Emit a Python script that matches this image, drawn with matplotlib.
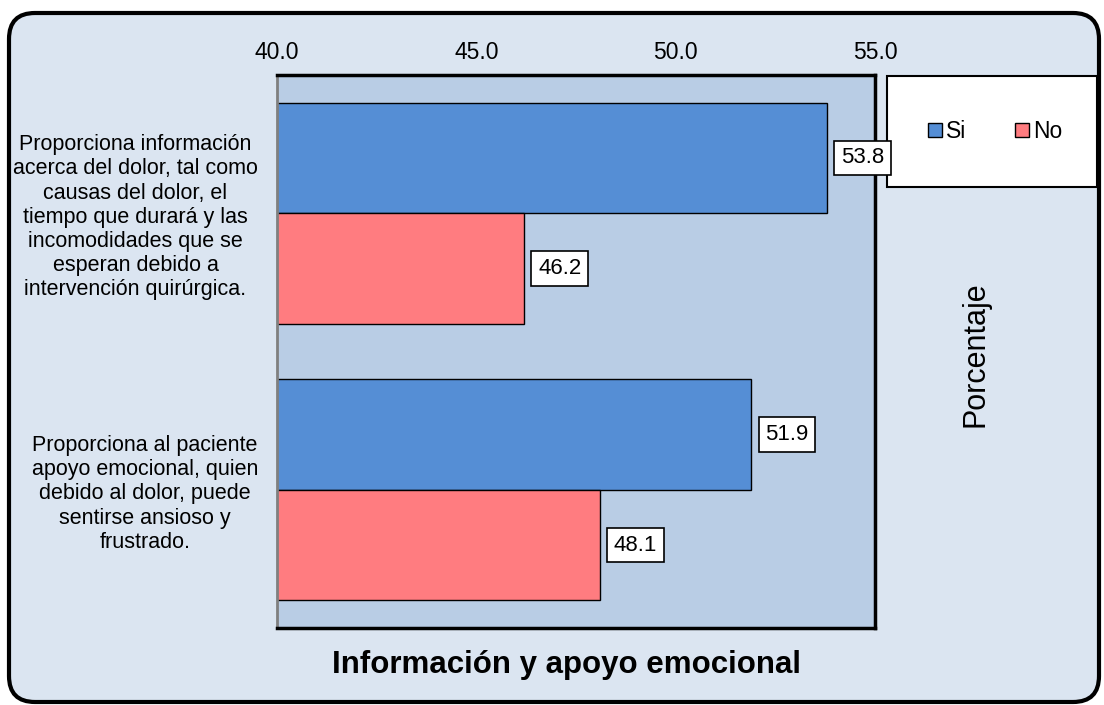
import matplotlib
matplotlib.use("Agg")
import matplotlib.pyplot as plt
from matplotlib.patches import FancyBboxPatch, Rectangle
from matplotlib.transforms import IdentityTransform
from matplotlib.ticker import FormatStrFormatter

plt.rcParams['font.family'] = ['Liberation Sans', 'DejaVu Sans']

categories = [
    "Proporciona información\nacerca del dolor, tal como\ncausas del dolor, el\ntiempo que durará y las\nincomodidades que se\nesperan debido a\nintervención quirúrgica.",
    "Proporciona al paciente\napoyo emocional, quien\ndebido al dolor, puede\nsentirse ansioso y\nfrustrado.",
]
si_values = [53.8, 51.9]
no_values = [46.2, 48.1]
series_names = ["Si", "No"]
x_ticks = [40.0, 45.0, 50.0, 55.0]

BG = "#DBE5F1"
PLOT_BG = "#B9CDE5"
BLUE = "#558ED5"
RED = "#FF7C80"

fig = plt.figure(figsize=(11.04, 7.05), dpi=100, facecolor="white")

# rounded outer frame in pixel coordinates
frame = FancyBboxPatch((9, 3), 1090, 689, boxstyle="round,pad=0,rounding_size=26",
                       transform=IdentityTransform(), facecolor=BG, edgecolor="black",
                       linewidth=3, zorder=-10)
fig.patches.append(frame)

ax = fig.add_axes([0.2509, 0.1092, 0.5417, 0.7844])
ax.set_zorder(2)
ax.set_facecolor(PLOT_BG)

pos = list(range(len(categories)))
h = 0.4
bars_si = ax.barh([p - h / 2 for p in pos], si_values, height=h, left=0, color=BLUE,
                  edgecolor="black", linewidth=1, label=series_names[0])
bars_no = ax.barh([p + h / 2 for p in pos], no_values, height=h, left=0, color=RED,
                  edgecolor="black", linewidth=1, label=series_names[1])

ax.set_xlim(40, 55)
ax.set_ylim(1.5, -0.5)
ax.set_xticks(x_ticks)
ax.xaxis.set_major_formatter(FormatStrFormatter("%.1f"))
ax.xaxis.tick_top()
ax.tick_params(axis="x", length=0, pad=8, labelsize=16.5)
ax.set_yticks(pos)
ax.set_yticklabels(categories, fontsize=15.5, ha="right", multialignment="center",
                   linespacing=1.2)
ax.tick_params(axis="y", length=0, pad=13.7)

for s in ["top", "right", "bottom"]:
    ax.spines[s].set_color("black")
    ax.spines[s].set_linewidth(2.5)
ax.spines["left"].set_color("#7F7F7F")
ax.spines["left"].set_linewidth(2)

# value boxes next to each bar
for bars, vals in ((bars_si, si_values), (bars_no, no_values)):
    for b, v in zip(bars, vals):
        yc = b.get_y() + b.get_height() / 2
        ax.annotate(f"{v:.1f}", xy=(v, yc), xytext=(10, 0), textcoords="offset points",
                    ha="left", va="center", fontsize=16, clip_on=False, zorder=10,
                    annotation_clip=False,
                    bbox=dict(boxstyle="square,pad=0.3", facecolor="white",
                              edgecolor="black", linewidth=1.2))

# legend box to the right of the plot
fig.patches.append(Rectangle((0.8034, 0.7348), 0.1902, 0.1574, transform=fig.transFigure,
                             facecolor="white", edgecolor="black", linewidth=1.5, zorder=1))
leg = fig.legend(handles=[bars_si, bars_no], labels=series_names, loc="center",
                 bbox_to_anchor=(0.9015, 0.8135), ncol=2, frameon=False, fontsize=16.5,
                 handlelength=0.6, handleheight=0.6, handletextpad=0.2, columnspacing=2.1)
leg.set_zorder(3)

fig.text(0.8832, 0.497, "Porcentaje", rotation=90, ha="center", va="center", fontsize=22)
fig.text(0.5127, 0.057, "Información y apoyo emocional", ha="center", va="center",
         fontsize=22.5, fontweight="bold")

fig.savefig("out.png", dpi=100, facecolor="white")
